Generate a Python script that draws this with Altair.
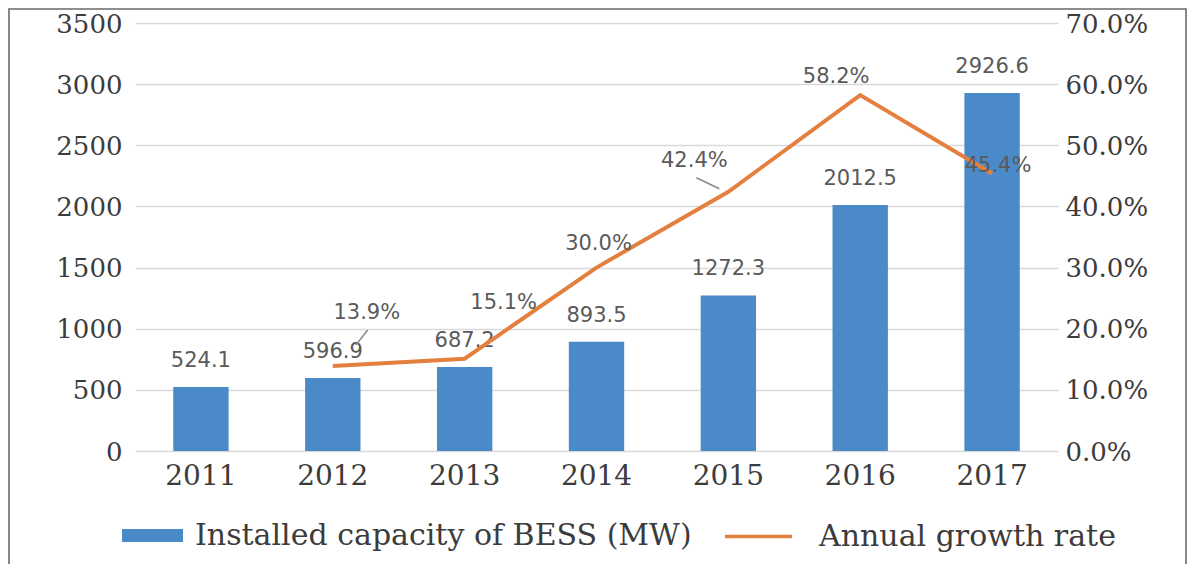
import altair as alt
import pandas as pd

# ---- data ----
years = ["2011", "2012", "2013", "2014", "2015", "2016", "2017"]
capacity = [524.1, 596.9, 687.2, 893.5, 1272.3, 2012.5, 2926.6]
growth_years = ["2012", "2013", "2014", "2015", "2016", "2017"]
growth = [13.9, 15.1, 30.0, 42.4, 58.2, 45.4]
cap_ticks = [0, 500, 1000, 1500, 2000, 2500, 3000, 3500]
pct_ticks = [0, 10, 20, 30, 40, 50, 60, 70]
bar_name = "Installed capacity of BESS (MW)"
line_name = "Annual growth rate"

cap_df = pd.DataFrame({"year": years, "capacity": capacity, "series": bar_name})
gr_df = pd.DataFrame({"year": growth_years, "growth": growth, "series": line_name})

# ---- styling ----
BLUE = "#4a8ac8"
ORANGE = "#e4803f"
TEXT = "#3c3c3c"
LABEL = "#5a5a5a"
SERIF = "DejaVu Serif"
SANS = "DejaVu Sans"

# label offsets (style only) for growth labels, per year
g_offsets = {"2012": (34, -53), "2013": (39, -56), "2014": (2, -24),
             "2015": (-34, -31), "2016": (-24, -18), "2017": (6, -7)}
# leader lines (style only): (x, y, x2, y2) offsets from the point
leaders = {"2012": (23, -21, 35, -36), "2015": (-32, -14, -9, -3)}

x_enc = alt.X("year:N", sort=years,
              scale=alt.Scale(domain=years, paddingInner=0.58, paddingOuter=0.29),
              axis=alt.Axis(title=None, labelAngle=0, ticks=False, domain=False,
                            labelFont=SERIF, labelFontSize=28, labelColor=TEXT,
                            labelPadding=11, grid=False))

y_cap = alt.Y("capacity:Q",
              scale=alt.Scale(domain=[0, 3500], nice=False),
              axis=alt.Axis(title=None, values=cap_ticks, orient="left", ticks=False,
                            domain=False, grid=True, gridColor="#d9d9d9", gridWidth=1.6,
                            format="d", labelOffset=1,
                            labelFont=SERIF, labelFontSize=26, labelColor=TEXT,
                            labelPadding=13))

y_gr = alt.Y("growth:Q",
             scale=alt.Scale(domain=[0, 70], nice=False),
             axis=alt.Axis(title=None, values=pct_ticks, orient="right", ticks=False,
                           domain=False, grid=False, labelOffset=1,
                           labelExpr="format(datum.value, '.1f') + '%'",
                           labelFont=SERIF, labelFontSize=26, labelColor=TEXT,
                           labelPadding=7))

bars = alt.Chart(cap_df).mark_bar().encode(
    x=x_enc,
    y=y_cap,
    fill=alt.Fill("series:N", scale=alt.Scale(domain=[bar_name], range=[BLUE]),
                  legend=alt.Legend(orient="none", legendX=-13, legendY=482, title=None,
                                    symbolType="M-1,-0.213H1V0.213H-1Z", symbolSize=3721,
                                    symbolStrokeWidth=0, labelFont=SERIF, labelFontSize=30,
                                    labelColor=TEXT, labelOffset=12, labelLimit=0)),
)

bar_labels = alt.Chart(cap_df).mark_text(
    baseline="middle", dy=-26, font=SANS, fontSize=21, color=LABEL
).transform_calculate(lbl="format(datum.capacity, '.1f')").encode(
    x=alt.X("year:N", sort=years),
    y=alt.Y("capacity:Q"),
    text="lbl:N",
)

line = alt.Chart(gr_df).mark_line(strokeWidth=4).encode(
    x=alt.X("year:N", sort=years),
    y=y_gr,
    stroke=alt.Stroke("series:N", scale=alt.Scale(domain=[line_name], range=[ORANGE]),
                      legend=alt.Legend(orient="none", legendX=588, legendY=478, title=None,
                                        symbolType="stroke", symbolSize=4489,
                                        symbolStrokeWidth=3.5, labelFont=SERIF,
                                        labelFontSize=30, labelColor=TEXT, labelOffset=25,
                                        labelLimit=0)),
)

g_label_layers = []
for yr, (dx, dy) in g_offsets.items():
    g_label_layers.append(
        alt.Chart(gr_df).transform_filter(alt.datum.year == yr)
        .transform_calculate(lbl="format(datum.growth, '.1f') + '%'")
        .mark_text(baseline="middle", dx=dx, dy=dy, font=SANS, fontSize=21, color=LABEL)
        .encode(x=alt.X("year:N", sort=years), y=alt.Y("growth:Q"), text="lbl:N")
    )

leader_layers = []
for yr, (x1, y1, x2, y2) in leaders.items():
    leader_layers.append(
        alt.Chart(gr_df).transform_filter(alt.datum.year == yr)
        .mark_rule(color="#8a8a8a", strokeWidth=1.5,
                   xOffset=x1, yOffset=y1, x2Offset=x2, y2Offset=y2)
        .encode(x=alt.X("year:N", sort=years), y=alt.Y("growth:Q"),
                x2=alt.X2("year:N"), y2=alt.Y2("growth:Q"))
    )

frame = alt.Chart(alt.Data(values=[{}])).mark_rect(
    fill="transparent", stroke="#6a6a6a", strokeWidth=1.6
).encode(x=alt.value(-126), x2=alt.value(1051), y=alt.value(-14), y2=alt.value(560))

left = alt.layer(bars, bar_labels)
right = alt.layer(line, *leader_layers, *g_label_layers)

chart = alt.layer(frame, left, right).resolve_scale(
    y="independent", fill="independent", stroke="independent"
).properties(
    width=923, height=428,
    autosize=alt.AutoSizeParams(type="none"),
    padding={"left": 127, "top": 15, "right": 130, "bottom": 113},
).configure(background="white", view=alt.ViewConfig(stroke=None))

chart.save("out.html", embed_options={"renderer": "svg", "actions": False})
